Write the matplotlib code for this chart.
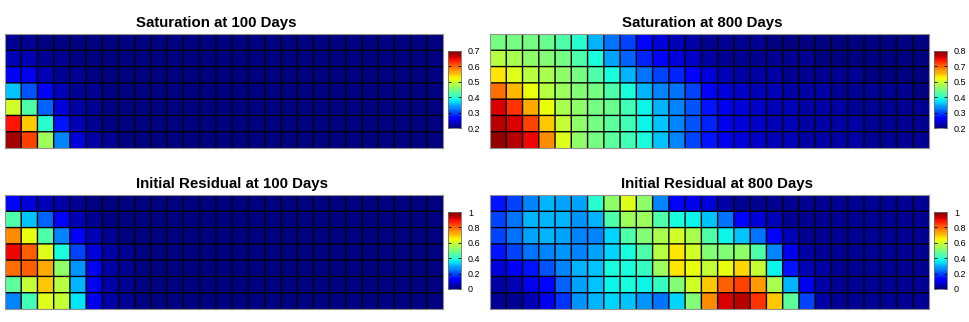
import numpy as np
import matplotlib
matplotlib.use("Agg")
import matplotlib.pyplot as plt
from matplotlib.colors import Normalize

plt.rcParams['font.family'] = ['Liberation Sans', 'DejaVu Sans']

titles = ["Saturation at 100 Days", "Saturation at 800 Days",
          "Initial Residual at 100 Days", "Initial Residual at 800 Days"]

# Saturation at 100 days (rows top -> bottom, 27 columns)
sat100 = [
    [0.21, 0.21, 0.205, 0.2] + [0.2] * 23,
    [0.23, 0.225, 0.215, 0.21, 0.205] + [0.2] * 22,
    [0.26, 0.25, 0.225, 0.215, 0.21] + [0.2] * 22,
    [0.36, 0.305, 0.255, 0.225, 0.215, 0.21] + [0.2] * 21,
    [0.5, 0.425, 0.31, 0.245, 0.22, 0.21] + [0.2] * 21,
    [0.64, 0.545, 0.4, 0.275, 0.23, 0.215] + [0.2] * 21,
    [0.68, 0.62, 0.47, 0.325, 0.24, 0.22, 0.21] + [0.2] * 20,
]

# Saturation at 800 days
sat800 = [
    [0.475, 0.475, 0.475, 0.463, 0.445, 0.415, 0.36, 0.32, 0.29, 0.25, 0.23, 0.205, 0.195, 0.19, 0.188,
     0.186, 0.185, 0.184, 0.183, 0.182, 0.181, 0.18, 0.18, 0.179, 0.178, 0.178, 0.178],
    [0.52, 0.505, 0.49, 0.481, 0.469, 0.439, 0.4, 0.349, 0.31, 0.271, 0.241, 0.229, 0.214, 0.199, 0.193,
     0.19, 0.188, 0.187, 0.186, 0.185, 0.184, 0.183, 0.182, 0.181, 0.18, 0.18, 0.179],
    [0.571, 0.541, 0.52, 0.505, 0.49, 0.469, 0.439, 0.4, 0.355, 0.319, 0.289, 0.271, 0.25, 0.229, 0.21,
     0.203, 0.199, 0.196, 0.193, 0.191, 0.189, 0.187, 0.185, 0.184, 0.183, 0.182, 0.181],
    [0.649, 0.601, 0.55, 0.52, 0.499, 0.481, 0.469, 0.445, 0.4, 0.361, 0.331, 0.319, 0.295, 0.25, 0.228,
     0.215, 0.21, 0.205, 0.201, 0.198, 0.195, 0.192, 0.19, 0.188, 0.186, 0.185, 0.184],
    [0.721, 0.685, 0.607, 0.55, 0.511, 0.49, 0.475, 0.46, 0.43, 0.391, 0.355, 0.325, 0.301, 0.265, 0.235,
     0.222, 0.215, 0.21, 0.205, 0.201, 0.198, 0.195, 0.193, 0.19, 0.188, 0.187, 0.186],
    [0.745, 0.727, 0.679, 0.595, 0.529, 0.49, 0.469, 0.451, 0.43, 0.397, 0.37, 0.331, 0.301, 0.271, 0.24,
     0.226, 0.218, 0.212, 0.207, 0.203, 0.2, 0.197, 0.194, 0.191, 0.189, 0.188, 0.187],
    [0.763, 0.745, 0.715, 0.631, 0.541, 0.49, 0.469, 0.451, 0.43, 0.4, 0.37, 0.331, 0.295, 0.265, 0.24,
     0.226, 0.218, 0.212, 0.207, 0.203, 0.2, 0.197, 0.194, 0.191, 0.189, 0.188, 0.187],
]

# Initial residual at 100 days
res100 = [
    [0.13, 0.09, 0.06, 0.04, 0.02] + [0.01] * 22,
    [0.44, 0.325, 0.225, 0.11, 0.05, 0.02] + [0.01] * 21,
    [0.76, 0.625, 0.45, 0.25, 0.11, 0.05, 0.02] + [0.01] * 20,
    [0.9, 0.81, 0.61, 0.375, 0.19, 0.09, 0.04, 0.02] + [0.01] * 19,
    [0.79, 0.8, 0.72, 0.525, 0.275, 0.1, 0.04, 0.02] + [0.01] * 19,
    [0.46, 0.59, 0.69, 0.575, 0.31, 0.1, 0.04, 0.02] + [0.01] * 19,
    [0.25, 0.425, 0.61, 0.59, 0.35, 0.1, 0.04, 0.02] + [0.01] * 19,
]

# Initial residual at 800 days
res800 = [
    [0.15, 0.2, 0.26, 0.3, 0.29, 0.29, 0.4, 0.525, 0.61, 0.525, 0.26, 0.11, 0.1, 0.08, 0.04,
     0.03, 0.03, 0.025, 0.025, 0.02, 0.02, 0.02, 0.02, 0.02, 0.02, 0.02, 0.02],
    [0.19, 0.24, 0.3, 0.31, 0.3, 0.275, 0.3, 0.44, 0.54, 0.54, 0.44, 0.375, 0.37, 0.325, 0.24, 0.13, 0.08, 0.05,
     0.03, 0.03, 0.025, 0.025, 0.02, 0.02, 0.02, 0.02, 0.02],
    [0.2, 0.24, 0.29, 0.3, 0.29, 0.26, 0.25, 0.34, 0.44, 0.5, 0.56, 0.6, 0.56, 0.45, 0.36, 0.325, 0.24, 0.11, 0.05,
     0.03, 0.03, 0.025, 0.025, 0.02, 0.02, 0.02, 0.02],
    [0.15, 0.19, 0.24, 0.26, 0.275, 0.26, 0.29, 0.34, 0.375, 0.45, 0.575, 0.66, 0.6, 0.5, 0.51, 0.525, 0.45, 0.25,
     0.1, 0.04, 0.03, 0.03, 0.025, 0.025, 0.02, 0.02, 0.02],
    [0.09, 0.11, 0.15, 0.21, 0.25, 0.3, 0.325, 0.375, 0.38, 0.42, 0.54, 0.66, 0.625, 0.59, 0.64, 0.675, 0.59, 0.37,
     0.15, 0.06, 0.035, 0.03, 0.03, 0.025, 0.025, 0.02, 0.02],
    [0.04, 0.05, 0.1, 0.13, 0.225, 0.29, 0.325, 0.36, 0.375, 0.36, 0.41, 0.51, 0.6, 0.69, 0.8, 0.83, 0.74, 0.55,
     0.31, 0.1, 0.04, 0.03, 0.03, 0.025, 0.025, 0.02, 0.02],
    [0.02, 0.03, 0.06, 0.1, 0.175, 0.275, 0.31, 0.34, 0.325, 0.275, 0.24, 0.34, 0.5, 0.75, 0.92, 0.94, 0.85, 0.69,
     0.46, 0.2, 0.04, 0.03, 0.03, 0.025, 0.025, 0.02, 0.02],
]

# colour limits and colorbar tick labels
clims = [(0.2, 0.7), (0.175, 0.775), (0.0, 1.0), (0.0, 1.0)]
cbar_labels = [
    ["0.2", "0.3", "0.4", "0.5", "0.6", "0.7"],
    ["0.2", "0.3", "0.4", "0.5", "0.7", "0.8"],
    ["0", "0.2", "0.4", "0.6", "0.8", "1"],
    ["0", "0.2", "0.4", "0.6", "0.8", "1"],
]

W, H = 969, 322
fig = plt.figure(figsize=(W / 100, H / 100), dpi=100)
cmap = plt.get_cmap('jet', 64)


def px(x0, y0, x1, y1):
    return [x0 / W, 1 - y1 / H, (x1 - x0) / W, (y1 - y0) / H]


ax_boxes = [px(5, 34, 443, 148), px(490, 34, 929, 148),
            px(5, 195, 443, 309), px(490, 195, 929, 309)]
cb_boxes = [px(448, 51, 461, 128), px(934, 51, 947, 128),
            px(448, 212, 461, 289), px(934, 212, 947, 289)]
title_x = [0.482, 0.484, 0.518, 0.516]

datas = [sat100, sat800, res100, res800]
for i in range(4):
    data = np.array(datas[i])
    nr, nc = data.shape
    ax = fig.add_axes(ax_boxes[i])
    norm = Normalize(vmin=clims[i][0], vmax=clims[i][1])
    mesh = ax.pcolormesh(data, cmap=cmap, norm=norm, edgecolors='none')
    for xv in range(1, nc):
        ax.plot([xv, xv], [0, nr], color='k', linewidth=1.0, solid_capstyle='butt', snap=False)
    for yv in range(1, nr):
        ax.plot([0, nc], [yv, yv], color='k', linewidth=1.0, solid_capstyle='butt', snap=False)
    ax.set_xlim(0, nc)
    ax.set_ylim(nr, 0)
    ax.set_xticks([])
    ax.set_yticks([])
    for s in ax.spines.values():
        s.set_color('#909090')
        s.set_linewidth(0.8)
    ax.set_title(titles[i], fontsize=10.8, fontweight='bold', pad=5, x=title_x[i])

    cax = fig.add_axes(cb_boxes[i])
    cb = fig.colorbar(mesh, cax=cax)
    ticks = np.linspace(clims[i][0], clims[i][1], len(cbar_labels[i]))
    cb.set_ticks(ticks)
    cb.set_ticklabels(cbar_labels[i])
    cb.outline.set_edgecolor('#707070')
    cb.outline.set_linewidth(0.6)
    cax.tick_params(axis='y', direction='in', length=2.5, width=0.6, left=True, right=True,
                    labelsize=6.5, pad=5)

fig.savefig('out.png', dpi=100)
